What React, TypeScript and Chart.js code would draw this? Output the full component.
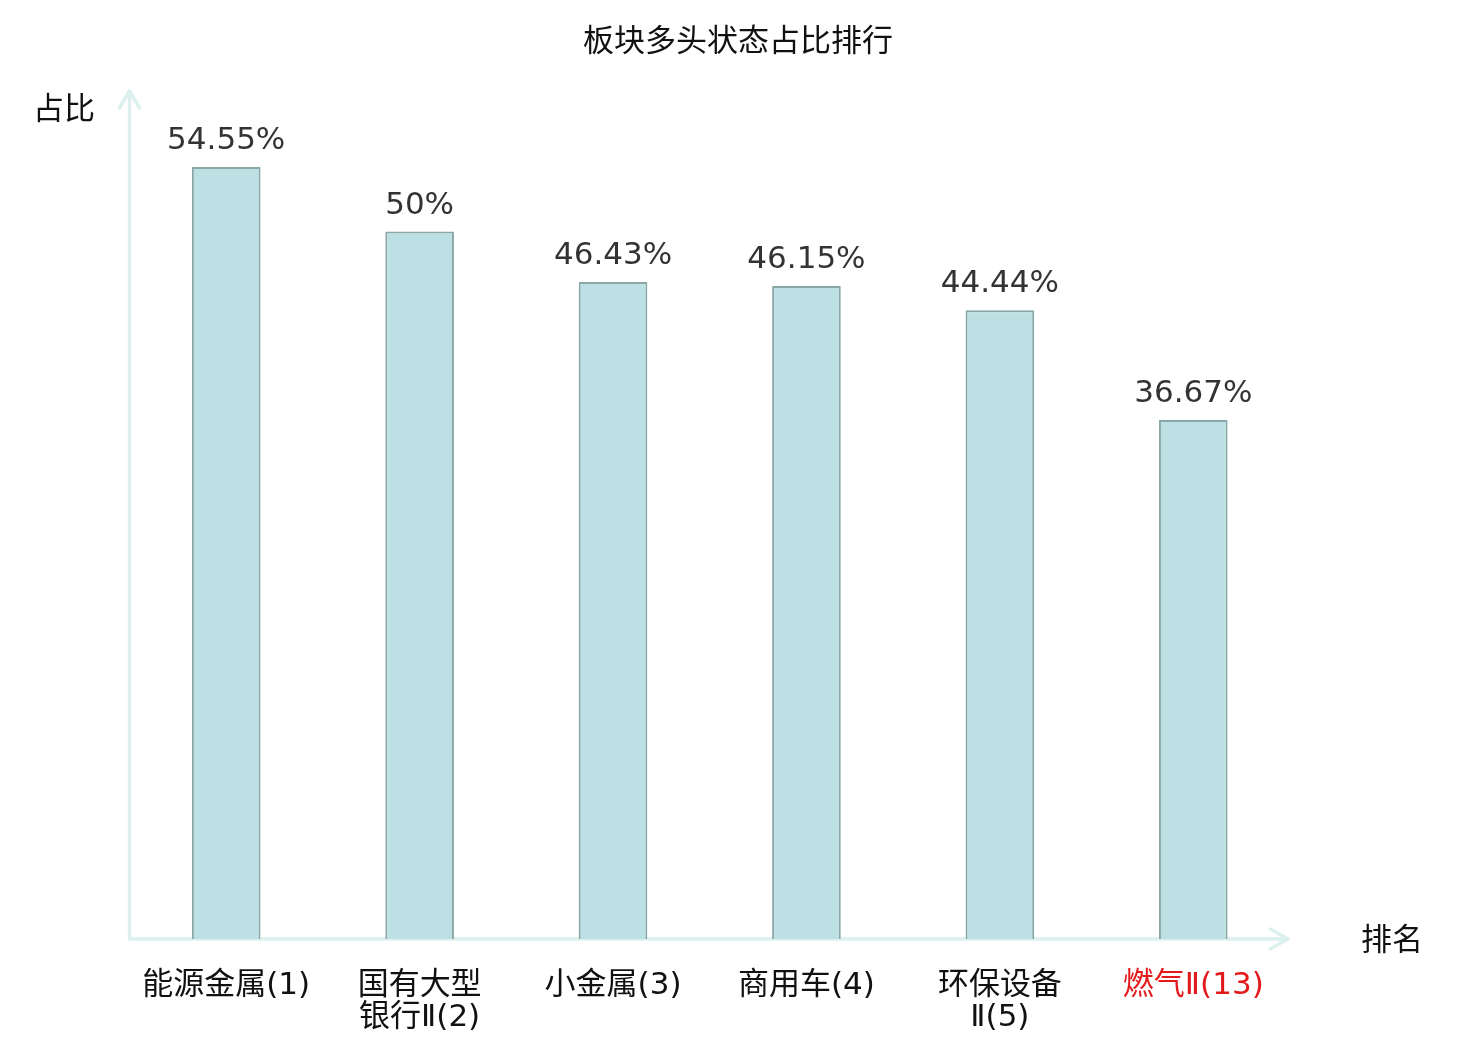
import React, { useEffect, useRef } from "react";
import Chart from "chart.js/auto";

// 板块多头状态占比排行 bar chart
const categories: string[][] = [
  ["能源金属(1)"],
  ["国有大型", "银行Ⅱ(2)"],
  ["小金属(3)"],
  ["商用车(4)"],
  ["环保设备", "Ⅱ(5)"],
  ["燃气Ⅱ(13)"],
];
const values: number[] = [54.55, 50, 46.43, 46.15, 44.44, 36.67];
const valueLabels: string[] = ["54.55%", "50%", "46.43%", "46.15%", "44.44%", "36.67%"];
const highlightIndex = 5;

const FONT = "'DejaVu Sans', 'Noto Sans CJK SC', sans-serif";
const AXIS_COLOR = "#dcf1ee";

export default function App() {
  const canvasRef = useRef<HTMLCanvasElement>(null);
  const chartRef = useRef<Chart | null>(null);

  // plugin: arrowed axes, value labels, title and axis names
  const decorPlugin = {
    id: "decorPlugin",
    beforeDatasetsDraw(chart: Chart) {
      const { ctx, chartArea } = chart;
      const { left, bottom } = chartArea;
      ctx.save();
      ctx.strokeStyle = AXIS_COLOR;
      ctx.lineWidth = 3.5;
      ctx.lineCap = "round";
      ctx.lineJoin = "round";
      // y axis
      ctx.beginPath();
      ctx.moveTo(left, bottom);
      ctx.lineTo(left, 91);
      ctx.moveTo(left - 10, 108);
      ctx.lineTo(left, 91);
      ctx.lineTo(left + 10, 108);
      // x axis
      ctx.moveTo(left, bottom);
      ctx.lineTo(1288, bottom);
      ctx.moveTo(1270, bottom - 10);
      ctx.lineTo(1288, bottom);
      ctx.lineTo(1270, bottom + 10);
      ctx.stroke();
      ctx.restore();
    },
    afterDatasetsDraw(chart: Chart) {
      const { ctx } = chart;
      const meta = chart.getDatasetMeta(0);
      ctx.save();
      ctx.font = `31px ${FONT}`;
      ctx.fillStyle = "#333333";
      ctx.textAlign = "center";
      ctx.textBaseline = "alphabetic";
      meta.data.forEach((el: any, i: number) => {
        ctx.fillText(valueLabels[i], el.x, el.y - 18);
      });

      ctx.fillStyle = "#111111";
      ctx.font = `31px ${FONT}`;
      ctx.textBaseline = "middle";
      ctx.fillText("板块多头状态占比排行", 738, 43);
      ctx.textAlign = "left";
      ctx.fillText("占比", 33, 111);
      ctx.fillText("排名", 1361, 942);
      ctx.restore();
    },
  };

  useEffect(() => {
    document.body.style.margin = "0";
    if (!canvasRef.current) return;
    const ctx = canvasRef.current.getContext("2d");
    if (!ctx) return;

    if (chartRef.current) {
      chartRef.current.destroy();
      chartRef.current = null;
    }

    chartRef.current = new Chart(ctx, {
      type: "bar",
      data: {
        labels: categories,
        datasets: [
          {
            data: values,
            backgroundColor: "#bce0e3",
            borderColor: "#8aa7a7",
            borderWidth: 2,
            categoryPercentage: 1,
            barPercentage: 0.355,
          },
        ],
      },
      options: {
        animation: false,
        responsive: false,
        maintainAspectRatio: false,
        layout: { padding: { left: 129.5, right: 190, top: 90, bottom: 0 } },
        plugins: {
          legend: { display: false },
          tooltip: { enabled: false },
          title: { display: false },
        },
        scales: {
          y: {
            display: false,
            min: 0,
            max: 60,
          },
          x: {
            grid: { display: false, drawTicks: false },
            border: { display: false },
            afterFit(scale: any) {
              scale.height = 101;
            },
            ticks: {
              padding: 31,
              maxRotation: 0,
              autoSkip: false,
              font: { size: 31, family: FONT, lineHeight: 1.04 },
              color: (c: any) => (c.index === highlightIndex ? "#e3191c" : "#111111"),
            },
          },
        },
      },
      plugins: [decorPlugin],
    });

    return () => {
      if (chartRef.current) {
        chartRef.current.destroy();
        chartRef.current = null;
      }
    };
  }, []);

  return (
    <div style={{ width: 1480, height: 1040, background: "#fff" }}>
      <canvas ref={canvasRef} width={1480} height={1040} aria-label="板块多头状态占比排行" />
    </div>
  );
}
